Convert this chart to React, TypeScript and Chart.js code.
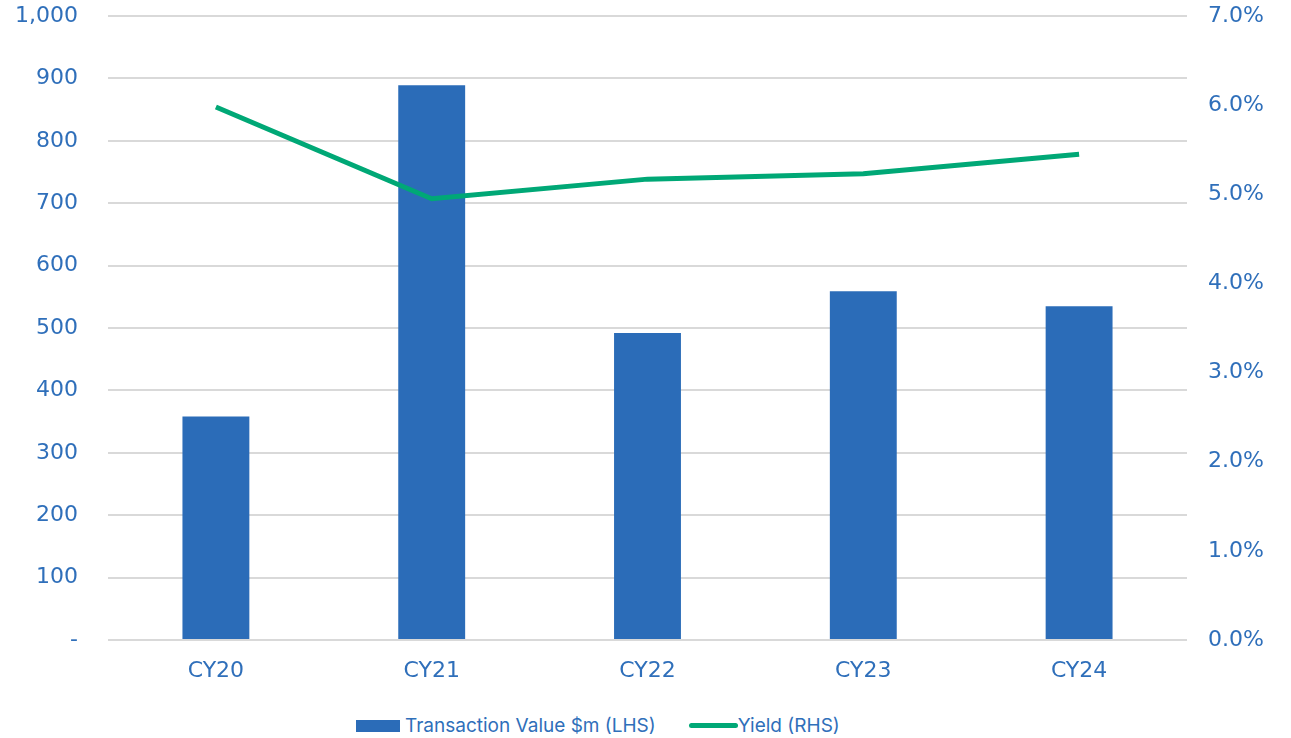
import React, { useEffect, useRef } from "react";
import { Chart, registerables } from "chart.js";

Chart.register(...registerables);

const categories = ["CY20", "CY21", "CY22", "CY23", "CY24"];
const transactionValue = [358, 889, 492, 559, 535];
const yieldPct = [5.98, 4.95, 5.17, 5.23, 5.45];
const leftTicks = [0, 100, 200, 300, 400, 500, 600, 700, 800, 900, 1000];
const rightTicks = [0, 1, 2, 3, 4, 5, 6, 7];
const seriesNames = ["Transaction Value $m (LHS)", "Yield (RHS)"];

const BLUE = "#2B6CB8";
const GREEN = "#00A876";
const TEXT = "#2F6FBA";
const GRID = "#D9D9D9";
const FONT = "Inter, 'Open Sans', sans-serif";
const TICKFONT = "'DejaVu Sans', Inter, sans-serif";

export default function App() {
  const ref = useRef<HTMLCanvasElement | null>(null);

  useEffect(() => {
    if (!ref.current) return;
    const zeroPad = (s: any) => {
      s.paddingTop = 0;
      s.paddingBottom = 0;
    };
    const chart = new Chart(ref.current, {
      type: "bar",
      data: {
        labels: categories,
        datasets: [
          {
            type: "line",
            label: seriesNames[1],
            data: yieldPct,
            borderColor: GREEN,
            backgroundColor: GREEN,
            borderWidth: 5,
            pointRadius: 0,
            tension: 0,
            yAxisID: "y2",
            order: 0,
          } as any,
          {
            type: "bar",
            label: seriesNames[0],
            data: transactionValue,
            backgroundColor: BLUE,
            barPercentage: 0.31,
            categoryPercentage: 1,
            yAxisID: "y",
            order: 1,
          },
        ],
      },
      options: {
        animation: false,
        responsive: false,
        maintainAspectRatio: false,
        layout: { padding: { top: 16, bottom: 0, left: 0, right: 0 } },
        plugins: { legend: { display: false }, tooltip: { enabled: false } },
        scales: {
          x: {
            grid: { display: false, drawTicks: false },
            border: { display: false },
            ticks: { color: TEXT, font: { family: TICKFONT, size: 22 }, padding: 18 },
            afterFit: (s: any) => {
              s.height = 60;
            },
          },
          y: {
            position: "left",
            min: 0,
            max: 1000,
            afterBuildTicks: (s: any) => {
              s.ticks = leftTicks.map((v) => ({ value: v }));
            },
            grid: { color: GRID, lineWidth: 2, drawTicks: false },
            border: { display: false },
            ticks: {
              color: TEXT,
              font: { family: TICKFONT, size: 22 },
              padding: 30,
              callback: (v: any) => (Number(v) === 0 ? "-" : Number(v).toLocaleString("en-US")),
            },
            afterFit: (s: any) => {
              s.width = 108;
              zeroPad(s);
            },
          },
          y2: {
            position: "right",
            min: 0,
            max: 7,
            afterBuildTicks: (s: any) => {
              s.ticks = rightTicks.map((v) => ({ value: v }));
            },
            grid: { display: false, drawTicks: false },
            border: { display: false },
            ticks: {
              color: TEXT,
              font: { family: TICKFONT, size: 22 },
              padding: 21,
              callback: (v: any) => Number(v).toFixed(1) + "%",
            },
            afterFit: (s: any) => {
              s.width = 104;
              zeroPad(s);
            },
          },
        },
      },
    });
    return () => chart.destroy();
  }, []);

  return (
    <div style={{ position: "fixed", left: 0, top: 0, width: 1291, height: 738, background: "#fff", fontFamily: FONT }}>
      <canvas ref={ref} width={1291} height={700} style={{ display: "block", width: 1291, height: 700 }} />
      <div style={{ position: "absolute", left: 356, top: 714, display: "flex", alignItems: "center", color: TEXT, fontSize: 19, whiteSpace: "nowrap" }}>
        <span style={{ display: "inline-block", width: 44, height: 12, background: BLUE, marginRight: 5 }} />
        <span>{seriesNames[0]}</span>
        <span style={{ display: "inline-block", width: 49, height: 5, borderRadius: 3, background: GREEN, marginLeft: 33, marginRight: 0 }} />
        <span>{seriesNames[1]}</span>
      </div>
    </div>
  );
}
